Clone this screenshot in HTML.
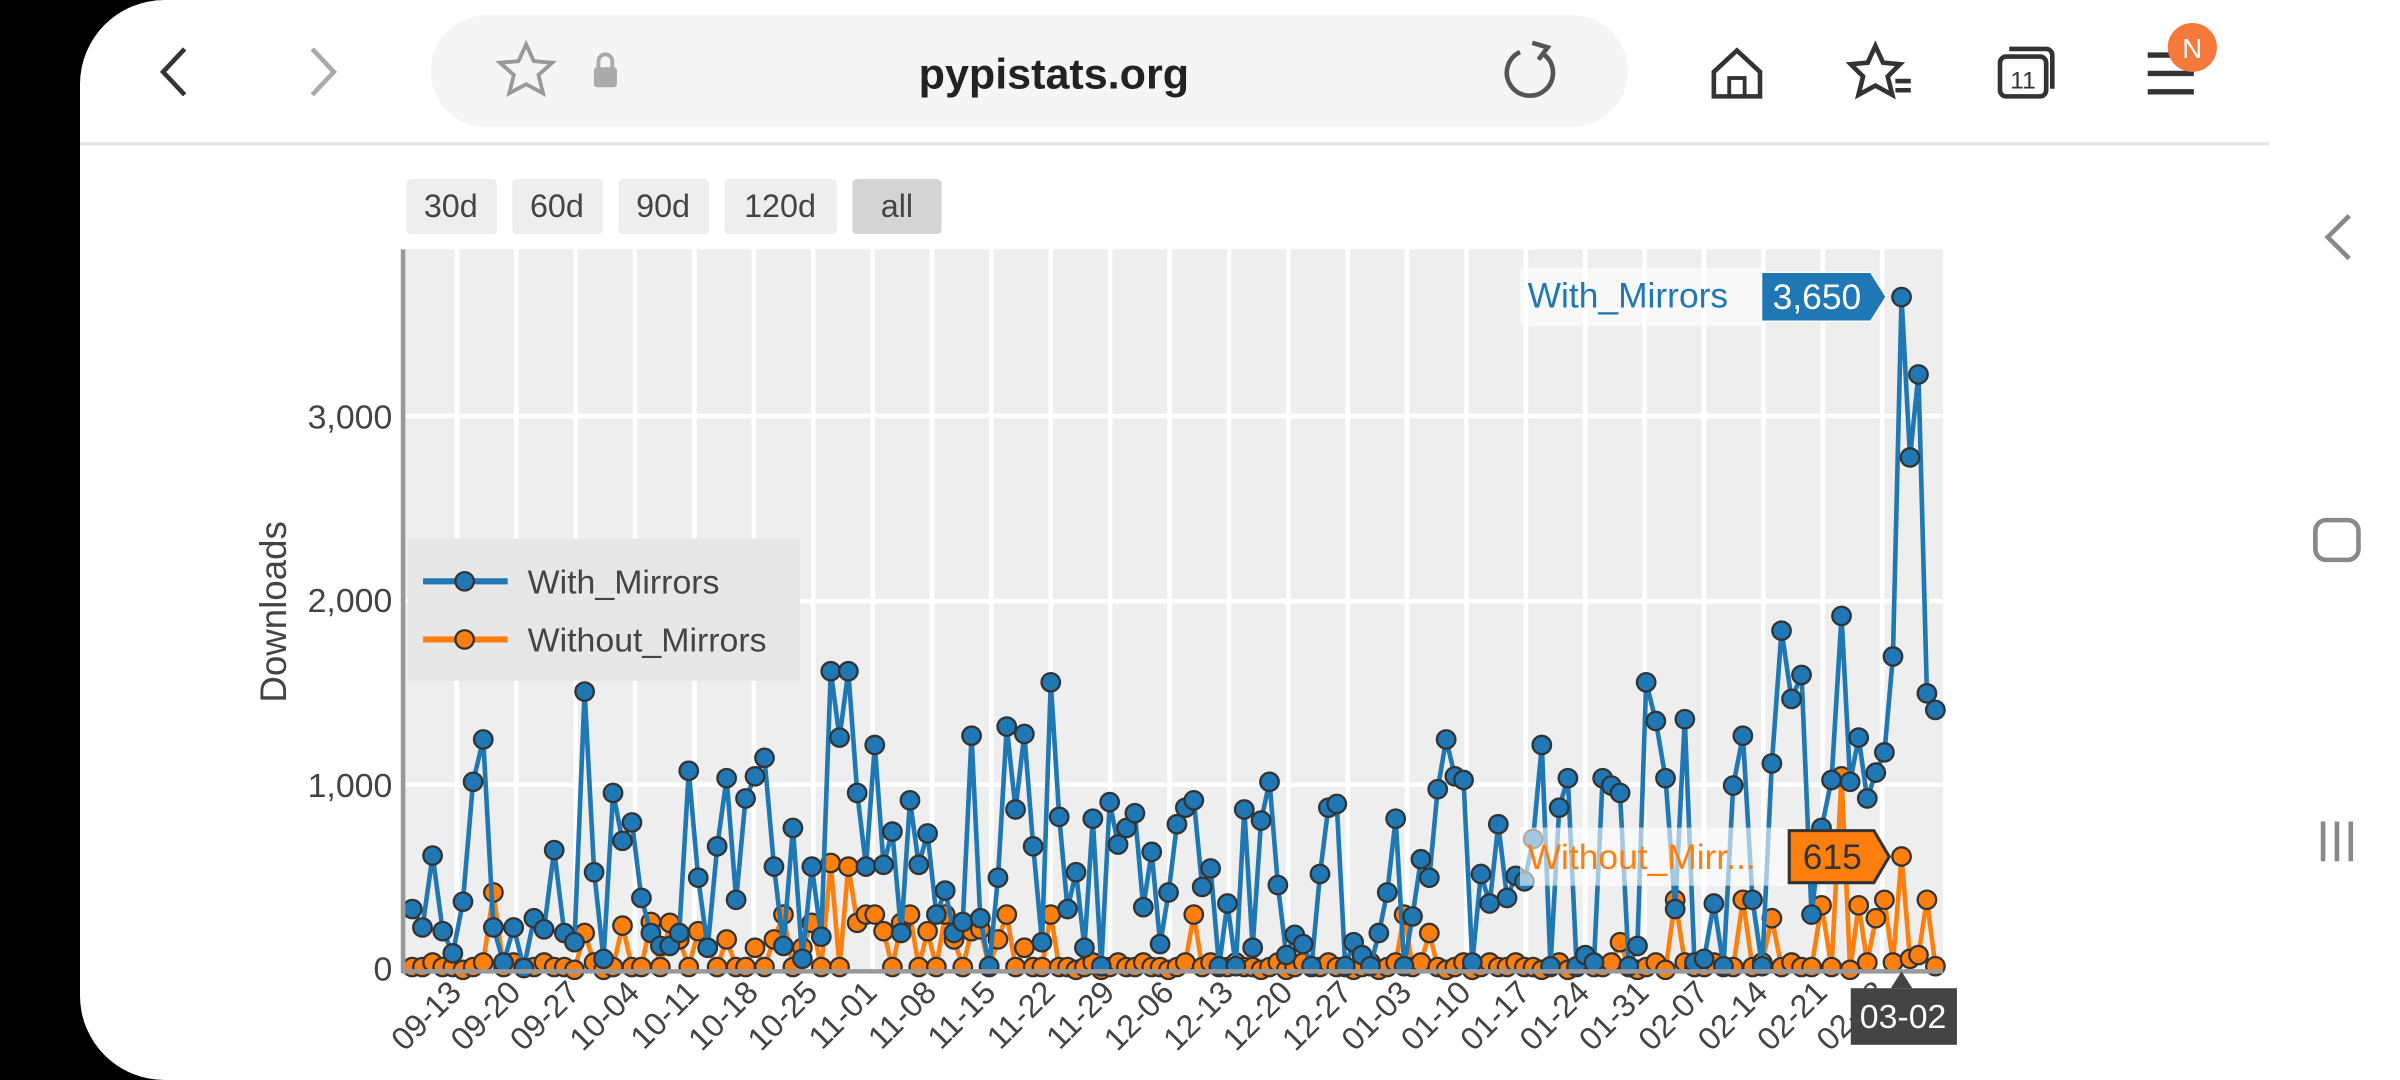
<!DOCTYPE html>
<html><head><meta charset="utf-8"><style>
html,body{margin:0;padding:0;background:#000;width:2400px;height:1080px;overflow:hidden}
svg{display:block}
text{font-family:"Liberation Sans",sans-serif}
</style></head><body>
<svg id="s" width="2400" height="1080" viewBox="0 0 1560 706" preserveAspectRatio="none" xmlns="http://www.w3.org/2000/svg">
<rect x="0" y="0" width="1560" height="706" fill="#000"/>
<rect x="52" y="0" width="1560" height="706" rx="55" fill="#fff"/>
<rect x="1400" y="0" width="160" height="706" fill="#fff"/>
<path d="M120 32 L106 47 L120 62" fill="none" stroke="#333" stroke-width="3"/>
<path d="M203 32 L217 47 L203 62" fill="none" stroke="#aaa" stroke-width="3"/>
<rect x="280" y="10" width="778" height="73" rx="36" fill="#f5f5f5"/>
<path d="M342 29 l5 11 12 1 -9 8 3 12 -11 -6 -11 6 3 -12 -9 -8 12 -1z" fill="none" stroke="#999" stroke-width="2.5"/>
<rect x="386" y="44" width="15" height="13" rx="2" fill="#aaa"/><path d="M389 45 v-5 a4.5 4.5 0 0 1 9 0 v5" fill="none" stroke="#aaa" stroke-width="2.5"/>
<text x="685" y="58" font-size="28" text-anchor="middle" fill="#222" font-weight="bold">pypistats.org</text>
<path d="M1004 36 A15 15 0 1 1 988 34" fill="none" stroke="#555" stroke-width="3"/><path d="M996 28 l10 3 -6 8" fill="none" stroke="#555" stroke-width="3"/>
<path d="M1114 47 L1129 33 L1144 47 V63 H1114Z" fill="none" stroke="#333" stroke-width="3"/><rect x="1124" y="51" width="10" height="12" fill="none" stroke="#333" stroke-width="2.5"/>
<path d="M1219 30 l5 11 11 1 -8 8 3 12 -11 -6 -11 6 3 -12 -8 -8 11 -1z" fill="none" stroke="#333" stroke-width="3"/><path d="M1232 53h10M1232 59h10" stroke="#333" stroke-width="3"/>
<rect x="1300" y="37" width="30" height="26" rx="4" fill="none" stroke="#333" stroke-width="3"/><path d="M1306 32 h24 a4 4 0 0 1 4 4 v22" fill="none" stroke="#333" stroke-width="3"/>
<text x="1315" y="58" font-size="16" text-anchor="middle" fill="#333">11</text>
<path d="M1396 36h26M1396 48h30M1396 60h30" stroke="#333" stroke-width="3.5"/>
<circle cx="1425" cy="31" r="16" fill="#f4793b"/><text x="1425" y="38" font-size="18" text-anchor="middle" fill="#fff">N</text>
<line x1="52" y1="94" x2="1475" y2="94" stroke="#e3e3e3" stroke-width="2"/>
<path d="M1527 141 L1513 155 L1527 169" fill="none" stroke="#888" stroke-width="3"/>
<rect x="1505" y="340" width="28" height="26" rx="7" fill="none" stroke="#888" stroke-width="3"/>
<path d="M1510 537v26M1519 537v26M1528 537v26" stroke="#888" stroke-width="3"/>
<g font-size="21" fill="#444" text-anchor="middle">
<rect x="264" y="117" width="59" height="36" rx="3" fill="#eee"/><text x="293" y="142">30d</text>
<rect x="333" y="117" width="59" height="36" rx="3" fill="#eee"/><text x="362" y="142">60d</text>
<rect x="402" y="117" width="59" height="36" rx="3" fill="#eee"/><text x="431" y="142">90d</text>
<rect x="471" y="117" width="73" height="36" rx="3" fill="#eee"/><text x="507" y="142">120d</text>
<rect x="554" y="117" width="58" height="36" rx="3" fill="#d4d4d4"/><text x="583" y="142">all</text>
</g>
<rect x="262" y="163" width="1001" height="471" fill="#eeeeee"/>
<g id="grid"></g>
<g font-size="22" fill="#444" text-anchor="end">
<text x="255" y="641">0</text><text x="255" y="521">1,000</text><text x="255" y="400">2,000</text><text x="255" y="280">3,000</text>
</g>
<text transform="translate(186,400) rotate(-90)" font-size="24" fill="#444" text-anchor="middle">Downloads</text>
<g id="xl" font-size="21" fill="#444" text-anchor="end"></g>
<g id="series"></g>
<line x1="262" y1="163" x2="262" y2="636" stroke="#999" stroke-width="3"/>
<line x1="261" y1="635" x2="1263" y2="635" stroke="#999" stroke-width="3"/>
<rect x="265" y="352" width="255" height="93" fill="#e6e6e6" opacity="0.95"/>
<line x1="275" y1="380" x2="330" y2="380" stroke="#1f77b4" stroke-width="4"/><circle cx="302" cy="380" r="6" fill="#1f77b4" stroke="#333" stroke-width="1.5"/>
<line x1="275" y1="418" x2="330" y2="418" stroke="#ff7f0e" stroke-width="4"/><circle cx="302" cy="418" r="6" fill="#ff7f0e" stroke="#333" stroke-width="1.5"/>
<text x="343" y="388" font-size="22" fill="#444">With_Mirrors</text>
<text x="343" y="426" font-size="22" fill="#444">Without_Mirrors</text>
<rect x="988" y="175" width="157" height="38" fill="#fff" opacity="0.6"/>
<text x="993" y="201" font-size="23" fill="#1f77b4">With_Mirrors</text>
<path d="M1145 178 H1216 L1226 194 L1216 210 H1145Z" fill="#1f77b4" stroke="#fff" stroke-width="1"/>
<text x="1181" y="202" font-size="23" fill="#fff" text-anchor="middle">3,650</text>
<rect x="988" y="541" width="175" height="38" fill="#fff" opacity="0.6"/>
<text x="993" y="568" font-size="23" fill="#ff7f0e">Without_Mirr...</text>
<path d="M1163 543 H1218 L1228 560 L1218 577 H1163Z" fill="#ff7f0e" stroke="#333" stroke-width="2"/>
<text x="1191" y="568" font-size="23" fill="#333" text-anchor="middle">615</text>
<path d="M1236 635 L1229 646 H1243Z" fill="#444"/>
<rect x="1203" y="646" width="69" height="37" fill="#444"/>
<text x="1237" y="672" font-size="22" fill="#fff" text-anchor="middle">03-02</text>
</svg>
<script>
var NS="http://www.w3.org/2000/svg";
function el(t,a,p){var e=document.createElementNS(NS,t);for(var k in a)e.setAttribute(k,a[k]);p.appendChild(e);return e;}
var g=document.getElementById('grid');
[272,393,513].forEach(function(y){el('line',{x1:262,x2:1263,y1:y,y2:y,stroke:'#fff','stroke-width':3},g);});
var labels=["09-13","09-20","09-27","10-04","10-11","10-18","10-25","11-01","11-08","11-15","11-22","11-29","12-06","12-13","12-20","12-27","01-03","01-10","01-17","01-24","01-31","02-07","02-14","02-21","02-28","03-07"];
var xl=document.getElementById('xl');
for(var i=0;i<25;i++){var x=297+i*38.6;el('line',{x1:x,x2:x,y1:163,y2:634,stroke:'#fff','stroke-width':3},g);
 var t=el('text',{transform:'translate('+(x+4)+',650) rotate(-45)'},xl);t.textContent=labels[i];}
var b=[330,230,620,210,90,370,1020,1250,230,40,230,10,280,220,650,200,150,1510,530,60,960,700,800,390,200,130,130,200,1080,500,120,670,1040,380,930,1050,1150,560,130,770,60,560,180,1620,1260,1620,960,560,1220,570,750,200,920,570,740,300,430,200,260,1270,280,20,500,1320,870,1280,670,150,1560,830,330,530,120,820,20,910,680,770,850,340,640,140,420,790,880,920,450,550,20,360,20,870,120,810,1020,460,80,190,140,20,520,880,900,20,150,80,20,200,420,820,20,290,600,500,980,1250,1050,1030,40,520,360,790,390,510,480,710,1220,20,880,1040,20,80,40,1040,1000,960,20,130,1560,1350,1040,330,1360,40,60,360,20,1000,1270,380,20,1120,1840,1470,1600,300,770,1030,1920,1020,1260,930,1070,1180,1700,3650,2780,3230,1500,1410];
var n=b.length;
var i1510=b.indexOf(1510), i1620=b.indexOf(1620), i1560a=b.indexOf(1560), i1250b=b.indexOf(1250,20), i1560b=b.indexOf(1560,i1560a+1), i1840=b.indexOf(1840), i1920=b.indexOf(1920), i3650=b.indexOf(3650);
var anc=[[0,268],[i1510,380],[i1620,540],[i1560a,683],[i1250b,940],[i1560b,1070],[i1840,1158],[i1920,1197],[i3650,1236],[n-1,1258]];
function X(i){for(var k=0;k<anc.length-1;k++){var a=anc[k],c=anc[k+1];if(i<=c[0])return a[1]+(i-a[0])*(c[1]-a[1])/(c[0]-a[0]);}return 1258;}
var o=[];for(var i=0;i<n;i++){var r=(i*37%11);var v=r<6?15:(r<9?40:0);
 if(i>25&&i<70&&r>4)v=120+((i*53)%5)*45;
 o.push(v);}
var ov={8:420,17:200,21:240,24:260,43:580,45:560,47:300,52:300,56:300,60:220,85:300,110:300,113:200};
for(var k in ov)o[k]=ov[k];
o[i3650]=615; o[i3650+1]=60; o[i3650+2]=80; o[i3650+3]=380; if(i3650+4<n)o[i3650+4]=20;
o[i1920]=1050; o[i1920-2]=350; o[i1920+2]=350; o[i1920+4]=280; o[i1920+5]=380;
o[i1840-1]=280; o[i1840-4]=380; o[i1560b+3]=380; o[i1560b-3]=150;
var S=document.getElementById('series');
function draw(d,c){var pts=d.map(function(v,i){return [X(i),634-v*0.1205];});
 el('polyline',{points:pts.map(function(p){return p[0].toFixed(1)+','+p[1].toFixed(1)}).join(' '),fill:'none',stroke:c,'stroke-width':3,'stroke-linejoin':'round'},S);
 pts.forEach(function(p){el('circle',{cx:p[0],cy:p[1],r:6,fill:c,stroke:'#333','stroke-width':1.5},S);});}
draw(o,'#ff7f0e');draw(b,'#1f77b4');
</script>
</body></html>
